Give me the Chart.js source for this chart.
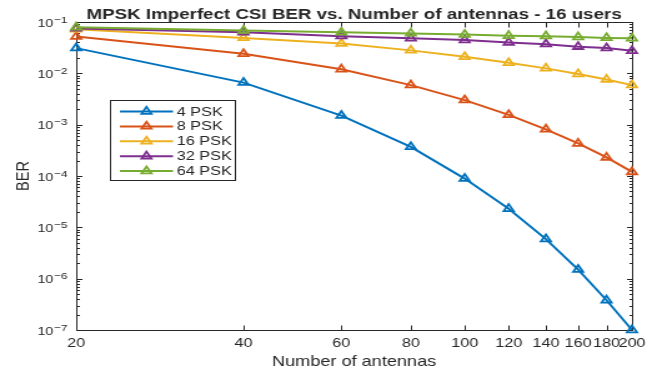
<!DOCTYPE html>
<html>
<head>
<meta charset="utf-8">
<script src="https://cdn.jsdelivr.net/npm/chart.js@4/dist/chart.umd.min.js"></script>
<style>
  html, body { margin: 0; padding: 0; background: #fff; overflow: hidden; }
  /* the reference figure is stretched sideways, so the whole drawing is too */
  #wrap { width: 526px; height: 370px; transform: scaleX(1.249); transform-origin: 0 0; }
</style>
</head>
<body>
<div id="wrap"><canvas id="chart" width="526" height="370"></canvas></div>
<script>
// Data.
let antennas = [20, 40, 60, 80, 100, 120, 140, 160, 180, 200];
let xTickValues = [20, 40, 60, 80, 100, 120, 140, 160, 180, 200];
let yDecades = [-7, -6, -5, -4, -3, -2, -1];

let ber4psk  = [3.1e-2, 6.6e-3, 1.5e-3, 3.7e-4, 8.9e-5, 2.3e-5, 5.9e-6, 1.5e-6, 3.8e-7, 1.0e-7];
let ber8psk  = [5.2e-2, 2.4e-2, 1.2e-2, 5.9e-3, 3.0e-3, 1.55e-3, 8.1e-4, 4.3e-4, 2.3e-4, 1.2e-4];
let ber16psk = [7.2e-2, 4.9e-2, 3.8e-2, 2.8e-2, 2.1e-2, 1.6e-2, 1.25e-2, 9.7e-3, 7.6e-3, 5.9e-3];
let ber32psk = [7.5e-2, 6.3e-2, 5.3e-2, 4.8e-2, 4.45e-2, 4.0e-2, 3.7e-2, 3.3e-2, 3.1e-2, 2.75e-2];
let ber64psk = [7.9e-2, 6.8e-2, 6.3e-2, 6.0e-2, 5.7e-2, 5.4e-2, 5.3e-2, 5.1e-2, 4.9e-2, 4.8e-2];

let seriesNames = ['4 PSK', '8 PSK', '16 PSK', '32 PSK', '64 PSK'];
let seriesData = [ber4psk, ber8psk, ber16psk, ber32psk, ber64psk];
let seriesColors = ['#0072BD', '#D95319', '#EDB120', '#7E2F8E', '#77AC30'];

let titleText = 'MPSK Imperfect CSI BER vs. Number of antennas - 16 users';
let xLabelText = 'Number of antennas';
let yLabelText = 'BER';

const axisColor = '#262626';
const fontFamily = '"Liberation Sans", Arial, Helvetica, sans-serif';

// Build datasets.
let datasets = seriesNames.map((name, i) => ({
  label: name,
  data: antennas.map((a, j) => ({x: a, y: seriesData[i][j]})),
  borderColor: seriesColors[i],
  backgroundColor: 'rgba(0,0,0,0)',
  borderWidth: 2,
  pointStyle: 'triangle',
  pointRadius: 4.6,
  pointBorderWidth: 1.8,
  pointBorderColor: seriesColors[i],
  pointBackgroundColor: 'rgba(0,0,0,0)',
  tension: 0,
  clip: false,
  order: seriesNames.length - 1 - i
}));

function superDigits(n) {
  return String(n).replace('-', '\u2212');
}

// MATLAB-like box, inward ticks, labels, title and legend.
const matlabLook = {
  id: 'matlabLook',
  beforeDatasetsDraw(chart) {
    const {ctx, chartArea: a, scales: {x, y}} = chart;
    const L = Math.round(a.left) + 0.5, R = Math.round(a.right) + 0.5;
    const T = Math.round(a.top) + 0.5, B = Math.round(a.bottom) + 0.5;
    ctx.save();
    ctx.strokeStyle = axisColor;
    ctx.lineWidth = 1;
    ctx.beginPath();
    // x ticks, bottom and top
    xTickValues.forEach(v => {
      const px = Math.round(x.getPixelForValue(v)) + 0.5;
      ctx.moveTo(px, B); ctx.lineTo(px, B - 5);
      ctx.moveTo(px, T); ctx.lineTo(px, T + 5);
    });
    // y ticks, major and minor, left and right
    yDecades.forEach(d => {
      const steps = d === yDecades[yDecades.length - 1] ? [1] : [1, 2, 3, 4, 5, 6, 7, 8, 9];
      steps.forEach(k => {
        const v = k * Math.pow(10, d);
        const py = Math.round(y.getPixelForValue(v)) + 0.5;
        const len = k === 1 ? 4.5 : 2.5;
        ctx.moveTo(L, py); ctx.lineTo(L + len, py);
        ctx.moveTo(R, py); ctx.lineTo(R - len, py);
      });
    });
    ctx.stroke();
    ctx.strokeRect(L, T, R - L, B - T);
    ctx.restore();
  },
  afterDraw(chart) {
    const {ctx, chartArea: a, scales: {y}} = chart;
    const cx = (a.left + a.right) / 2;
    ctx.save();
    ctx.fillStyle = axisColor;

    // y tick labels as 10^n
    yDecades.forEach(d => {
      const py = y.getPixelForValue(Math.pow(10, d));
      const right = a.left - 7;
      ctx.font = '9.5px ' + fontFamily;
      const exp = superDigits(d);
      const ew = ctx.measureText(exp).width;
      ctx.textAlign = 'left';
      ctx.textBaseline = 'alphabetic';
      ctx.fillText(exp, right - ew, py + 0.5);
      ctx.font = '11.5px ' + fontFamily;
      const bw = ctx.measureText('10').width;
      ctx.fillText('10', right - ew - bw - 0.5, py + 4.5);
    });

    // title
    ctx.font = 'bold 15px ' + fontFamily;
    ctx.textAlign = 'center';
    ctx.textBaseline = 'alphabetic';
    ctx.fillText(titleText, cx, 18.5);

    // x label
    ctx.font = '14.5px ' + fontFamily;
    ctx.fillText(xLabelText, cx, 365.5);

    // y label
    ctx.save();
    ctx.translate(23, (a.top + a.bottom) / 2);
    ctx.rotate(-Math.PI / 2);
    ctx.font = '14.5px ' + fontFamily;
    ctx.fillText(yLabelText, 0, 0);
    ctx.restore();

    // legend
    const box = {left: 88.5, top: 100.5, right: 188.5, bottom: 180.5};
    ctx.fillStyle = '#fff';
    ctx.fillRect(box.left, box.top, box.right - box.left, box.bottom - box.top);
    ctx.strokeStyle = axisColor;
    ctx.lineWidth = 1;
    ctx.strokeRect(box.left, box.top, box.right - box.left, box.bottom - box.top);
    chart.data.datasets.forEach((ds, i) => {
      const ly = 111.5 + i * 14.9;
      ctx.strokeStyle = ds.borderColor;
      ctx.lineWidth = ds.borderWidth;
      ctx.beginPath();
      ctx.moveTo(96, ly);
      ctx.lineTo(138.5, ly);
      ctx.stroke();
      ctx.lineWidth = ds.pointBorderWidth;
      ctx.fillStyle = 'rgba(0,0,0,0)';
      Chart.helpers.drawPoint(ctx, {pointStyle: 'triangle', radius: ds.pointRadius, borderWidth: ds.pointBorderWidth}, 117.3, ly);
      ctx.fillStyle = axisColor;
      ctx.font = '13px ' + fontFamily;
      ctx.textAlign = 'left';
      ctx.textBaseline = 'middle';
      ctx.fillText(ds.label, 141.5, ly + 0.5);
    });
    ctx.restore();
  }
};

let ctx = document.getElementById('chart');
let chart = new Chart(ctx, {
  type: 'line',
  data: {datasets: datasets},
  plugins: [matlabLook],
  options: {
    responsive: false,
    animation: false,
    devicePixelRatio: 1,
    layout: {padding: {left: 0, right: 20, top: 22, bottom: 0}},
    plugins: {
      legend: {display: false},
      title: {display: false},
      tooltip: {enabled: false}
    },
    scales: {
      x: {
        type: 'logarithmic',
        min: 20,
        max: 200,
        afterBuildTicks: scale => {
          scale.ticks = xTickValues.map(v => ({value: v}));
        },
        afterFit: scale => { scale.height = 40; },
        grid: {display: false, drawTicks: false},
        border: {display: false},
        ticks: {
          autoSkip: false,
          maxRotation: 0,
          minRotation: 0,
          padding: 6,
          color: axisColor,
          font: {family: fontFamily, size: 13},
          callback: v => String(v)
        }
      },
      y: {
        type: 'logarithmic',
        min: 1e-7,
        max: 1e-1,
        afterFit: scale => { scale.width = 61; },
        grid: {display: false, drawTicks: false},
        border: {display: false},
        ticks: {display: false}
      }
    }
  }
});
</script>
</body>
</html>
